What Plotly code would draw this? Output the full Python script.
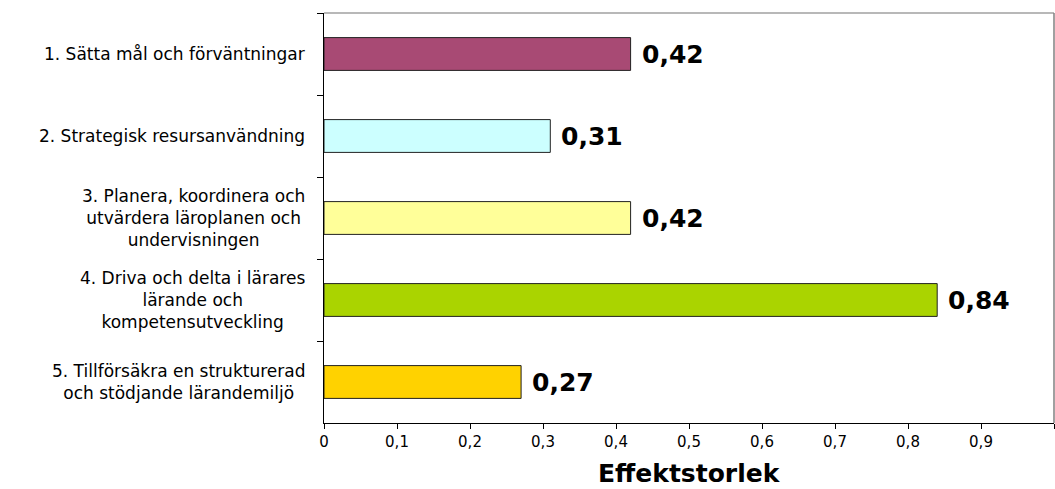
import plotly.graph_objects as go

categories = [
    "1. Sätta mål och förväntningar",
    "2. Strategisk resursanvändning",
    "3. Planera, koordinera och<br>utvärdera läroplanen och<br>undervisningen",
    "4. Driva och delta i lärares<br>lärande och<br>kompetensutveckling",
    "5. Tillförsäkra en strukturerad<br>och stödjande lärandemiljö",
]
values = [0.42, 0.31, 0.42, 0.84, 0.27]
colors = ["#A84A74", "#CCFFFF", "#FFFF99", "#AAD400", "#FFD200"]
x_ticks = [0, 0.1, 0.2, 0.3, 0.4, 0.5, 0.6, 0.7, 0.8, 0.9, 1]
axis_title = "Effektstorlek"

W, H = 1055, 489
L, R, T, B = 324, 1, 13, 66
plot_w = W - L - R

fig = go.Figure()
fig.add_trace(go.Bar(
    x=values, y=categories, orientation="h",
    marker=dict(color=colors, line=dict(color="#222222", width=1)),
    width=0.4, hoverinfo="skip",
))

for c, v in zip(categories, values):
    fig.add_annotation(
        x=v, y=c, xref="x", yref="y", xanchor="left", yanchor="middle",
        xshift=9, text=f"{v:.2f}".replace(".", ","), showarrow=False,
        font=dict(family="DejaVu Sans", size=25, color="black", weight="bold"),
    )
    fig.add_annotation(
        x=(307 - L) / plot_w, y=c, xref="paper", yref="y",
        xanchor="right", yanchor="middle", align="center",
        text=c, showarrow=False,
        font=dict(family="DejaVu Sans", size=17, color="black"),
    )

# axis title
fig.add_annotation(
    x=0.5, y=0, xref="paper", yref="paper", xanchor="center", yanchor="top",
    yshift=-34, text=axis_title, showarrow=False,
    font=dict(family="DejaVu Sans", size=25, color="black", weight="bold"),
)

# top and right frame lines
fig.add_shape(type="line", xref="paper", yref="paper", x0=0, x1=1, y0=1, y1=1,
              line=dict(color="#A0A0A0", width=1.5))
fig.add_shape(type="line", xref="paper", yref="paper", x0=1, x1=1, y0=0, y1=1,
              line=dict(color="#808080", width=1.5))

fig.update_layout(
    width=W, height=H,
    margin=dict(l=L, r=R, t=T, b=B),
    paper_bgcolor="white", plot_bgcolor="white",
    separators=",.",
    showlegend=False,
    xaxis=dict(
        range=[0, 1], tickvals=x_ticks, ticks="outside", ticklen=5,
        tickcolor="black", showline=True, linecolor="black", linewidth=1,
        showgrid=False, zeroline=False,
        tickfont=dict(family="DejaVu Sans", size=15, color="black"),
    ),
    yaxis=dict(
        autorange="reversed", showticklabels=False, ticks="outside",
        tickson="boundaries", ticklen=6, tickcolor="black",
        showline=True, linecolor="black", linewidth=1, showgrid=False,
    ),
)

fig.write_html("out.html")
